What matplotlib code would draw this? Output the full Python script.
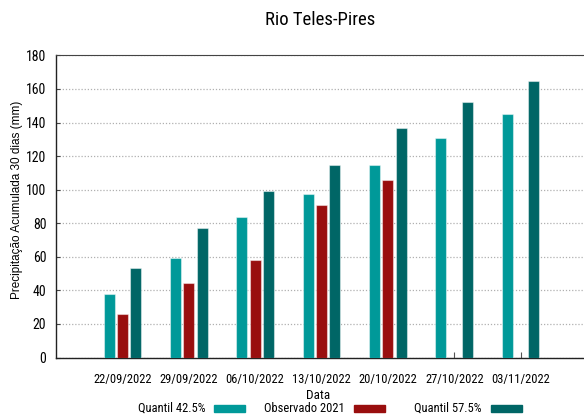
import matplotlib.pyplot as plt
from matplotlib.patches import Rectangle
from matplotlib.transforms import ScaledTranslation
import numpy as np

# data
datas = ["22/09/2022", "29/09/2022", "06/10/2022", "13/10/2022",
         "20/10/2022", "27/10/2022", "03/11/2022"]
quantil_425 = [38, 59.5, 84, 97.5, 114.5, 130.5, 145]
observado_2021 = [25.7, 44.3, 58, 91, 105.5, np.nan, np.nan]
quantil_575 = [53.5, 77, 99, 114.5, 136.5, 152, 164.5]

series = ["Quantil 42.5%", "Observado 2021", "Quantil 57.5%"]
cores = ["#009999", "#990e0e", "#006666"]

W, H = 584, 415
fig = plt.figure(figsize=(W / 100, H / 100), dpi=100)
ax = fig.add_axes([56 / W, (H - 357.5) / H, (587 - 56) / W, (357.5 - 55.4) / H])

x = np.arange(len(datas))
largura = 0.166
for k, (vals, cor) in enumerate(zip([quantil_425, observado_2021, quantil_575], cores)):
    ax.bar(x + (k - 1) * 0.2, vals, width=largura, color=cor,
           edgecolor=(1, 1, 1, 0.45), linewidth=0.8, zorder=3)

ax.set_xlim(-1, 7)
ax.set_ylim(0, 180)
ax.set_yticks(np.arange(0, 181, 20))
ax.set_xticks(x)
ax.set_xticklabels(datas)
ax.yaxis.grid(True, linestyle=(0, (1, 1.5)), color="#b0b0b0", linewidth=0.9, zorder=0)

fonte_narrow = ["Roboto Condensed", "DejaVu Sans"]
for lbl in ax.get_yticklabels():
    lbl.set_fontfamily(fonte_narrow)
    lbl.set_fontsize(10)
for lbl in ax.get_xticklabels():
    lbl.set_fontfamily(fonte_narrow)
    lbl.set_fontsize(9)
    lbl.set_transform(lbl.get_transform() + ScaledTranslation(5 / 100, 0, fig.dpi_scale_trans))

ax.tick_params(axis="y", direction="in", length=3, pad=7, color="#444444")
ax.tick_params(axis="x", direction="in", length=4, pad=11, color="#555555")
for s in ["left", "bottom"]:
    ax.spines[s].set_color("#222222")
    ax.spines[s].set_linewidth(1.0)
ax.spines["top"].set_color("#444444")
ax.spines["top"].set_linewidth(0.8)
ax.spines["right"].set_visible(False)

fig.text(320 / W, 1 - 20 / H, "Rio Teles-Pires", ha="center", va="center",
         fontsize=13.5, family=fonte_narrow)
fig.text(17 / W, 1 - 200 / H, "Precipitação Acumulada 30 dias (mm)", rotation=90,
         ha="center", va="center", fontsize=8.5, family=["Liberation Sans", "DejaVu Sans"])
fig.text(318 / W, 1 - 395 / H, "Data", ha="center", va="center",
         fontsize=9.5, family=fonte_narrow)

# legenda manual: texto + amostra de cor
texto_x = [205, 345, 482]
amostra_x = [214, 354, 491]
for nome, cor, tx, sx in zip(series, cores, texto_x, amostra_x):
    fig.text(tx / W, 1 - 408.5 / H, nome, ha="right", va="center",
             fontsize=9, family=fonte_narrow)
    fig.patches.append(Rectangle((sx / W, 1 - 412 / H), 31 / W, 7 / H,
                                 transform=fig.transFigure, color=cor))

fig.savefig("out.png", dpi=100)
